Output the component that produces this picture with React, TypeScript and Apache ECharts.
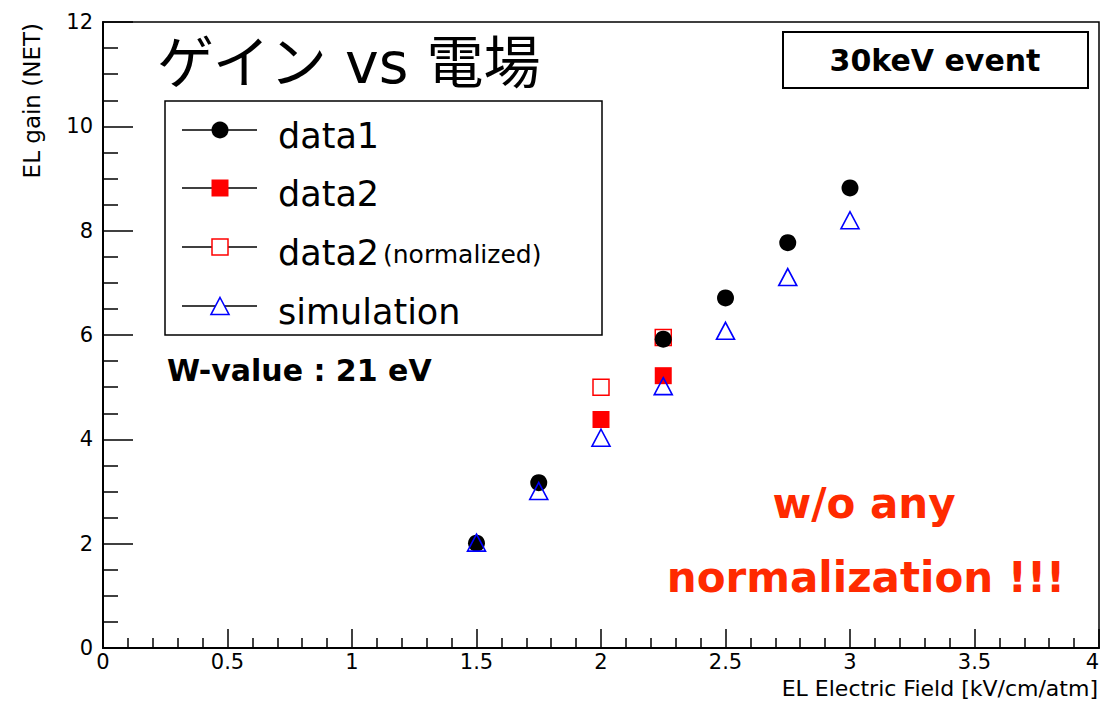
import React, { useEffect, useRef } from "react";
import * as echarts from "echarts";

// ---- data ----
const data1X = [1.5, 1.75, 2.25, 2.5, 2.75, 3.0];
const data1Y = [2.01, 3.17, 5.92, 6.71, 7.77, 8.82];
const data2X = [2.0, 2.25];
const data2Y = [4.38, 5.22];
const data2NormX = [2.0, 2.25];
const data2NormY = [5.0, 5.95];
const simX = [1.5, 1.75, 2.0, 2.25, 2.5, 2.75, 3.0];
const simY = [2.02, 3.01, 4.03, 5.02, 6.08, 7.11, 8.2];

const legendLabels = ["data1", "data2", "data2", "simulation"];
const legendSuffix = "(normalized)";
const titleText = "ゲイン vs 電場";
const boxText = "30keV event";
const wText = "W-value : 21 eV";
const redLines = ["w/o any", "normalization !!!"];
const yAxisTitle = "EL gain (NET)";
const xAxisTitle = "EL Electric Field [kV/cm/atm]";

const FONT = "DejaVu Sans";
const zip = (xs: number[], ys: number[]) => xs.map((x, i) => [x, ys[i]]);

export default function App() {
  const ref = useRef<HTMLDivElement>(null);
  useEffect(() => {
    if (!ref.current) return;
    const chart = echarts.init(ref.current, undefined, { renderer: "svg" });

    const rowsY = [130, 188, 247, 306];
    const legendGraphics: any[] = [
      {
        type: "rect",
        shape: { x: 165, y: 101, width: 437, height: 234 },
        style: { fill: "#fff", stroke: "#000", lineWidth: 1.5 },
        z: 10,
      },
    ];
    rowsY.forEach((ry, i) => {
      legendGraphics.push({
        type: "line",
        shape: { x1: 182, y1: ry, x2: 257, y2: ry },
        style: { stroke: "#000", lineWidth: 1.5 },
        z: 11,
      });
      legendGraphics.push({
        type: "text",
        x: 278,
        y: ry + 6,
        style: {
          text: legendLabels[i],
          font: `35px "${FONT}"`,
          fill: "#000",
          textAlign: "left",
          textVerticalAlign: "middle",
        },
        z: 11,
      });
    });
    legendGraphics.push({
      type: "text",
      x: 383,
      y: 254,
      style: {
        text: legendSuffix,
        font: `25px "${FONT}"`,
        fill: "#000",
        textAlign: "left",
        textVerticalAlign: "middle",
      },
      z: 11,
    });
    // legend markers
    legendGraphics.push({
      type: "circle",
      shape: { cx: 220, cy: rowsY[0], r: 8.5 },
      style: { fill: "#000" },
      z: 12,
    });
    legendGraphics.push({
      type: "rect",
      shape: { x: 211.5, y: rowsY[1] - 8.5, width: 17, height: 17 },
      style: { fill: "#ff0000" },
      z: 12,
    });
    legendGraphics.push({
      type: "rect",
      shape: { x: 212, y: rowsY[2] - 8, width: 16, height: 16 },
      style: { fill: "#fff", stroke: "#ff0000", lineWidth: 1.5 },
      z: 12,
    });
    legendGraphics.push({
      type: "polygon",
      shape: {
        points: [
          [220, rowsY[3] - 8.5],
          [229, rowsY[3] + 8.5],
          [211, rowsY[3] + 8.5],
        ],
      },
      style: { fill: "#fff", stroke: "#0000ff", lineWidth: 1.6 },
      z: 12,
    });

    const option: any = {
      animation: false,
      backgroundColor: "#fff",
      grid: {
        left: 103,
        right: 3,
        top: 22,
        bottom: 55,
        show: true,
        borderColor: "#000",
        borderWidth: 1.5,
        containLabel: false,
        outerBoundsMode: "none",
      },
      xAxis: {
        type: "value",
        min: 0,
        max: 4,
        interval: 0.5,
        axisLine: { show: true, onZero: false, lineStyle: { color: "#000", width: 2 } },
        axisTick: { show: true, inside: true, length: 19, lineStyle: { color: "#000", width: 1.5 } },
        minorTick: { show: true, splitNumber: 5, length: 10, lineStyle: { color: "#000", width: 1.5 } },
        splitLine: { show: false },
        minorSplitLine: { show: false },
        axisLabel: {
          color: "#000",
          fontSize: 21,
          fontFamily: FONT,
          margin: 3,
          showMaxLabel: true,
          hideOverlap: false,
          alignMaxLabel: "right",
        },
      },
      yAxis: {
        type: "value",
        min: 0,
        max: 12,
        interval: 2,
        axisLine: { show: true, onZero: false, lineStyle: { color: "#000", width: 2 } },
        axisTick: { show: true, inside: true, length: 30, lineStyle: { color: "#000", width: 1.5 } },
        minorTick: { show: true, splitNumber: 4, length: 15, lineStyle: { color: "#000", width: 1.5 } },
        splitLine: { show: false },
        minorSplitLine: { show: false },
        axisLabel: {
          color: "#000",
          fontSize: 21,
          fontFamily: FONT,
          margin: 10,
        },
      },
      series: [
        {
          name: "data2(normalized)",
          type: "scatter",
          data: zip(data2NormX, data2NormY),
          symbol: "rect",
          symbolSize: 16,
          itemStyle: { color: "rgba(255,255,255,0)", borderColor: "#ff0000", borderWidth: 1.5, opacity: 1 },
          z: 2,
        },
        {
          name: "data1",
          type: "scatter",
          data: zip(data1X, data1Y),
          symbol: "circle",
          symbolSize: 17,
          itemStyle: { color: "#000", opacity: 1 },
          z: 3,
        },
        {
          name: "data2",
          type: "scatter",
          data: zip(data2X, data2Y),
          symbol: "rect",
          symbolSize: 17,
          itemStyle: { color: "#ff0000", opacity: 1 },
          z: 4,
        },
        {
          name: "simulation",
          type: "scatter",
          data: zip(simX, simY),
          symbol: "triangle",
          symbolSize: [18, 17],
          itemStyle: { color: "rgba(255,255,255,0)", borderColor: "#0000ff", borderWidth: 1.6, opacity: 1 },
          z: 5,
        },
      ],
      graphic: [
        {
          type: "text",
          x: 157,
          y: 63,
          style: {
            text: titleText,
            font: `57px "DejaVu Sans", "Noto Sans CJK JP"`,
            fill: "#000",
            textAlign: "left",
            textVerticalAlign: "middle",
          },
          z: 10,
        },
        {
          type: "rect",
          shape: { x: 783, y: 32, width: 305, height: 56 },
          style: { fill: "#fff", stroke: "#000", lineWidth: 2 },
          z: 10,
        },
        {
          type: "text",
          x: 935,
          y: 60,
          style: {
            text: boxText,
            font: `bold 30px "${FONT}"`,
            fill: "#000",
            textAlign: "center",
            textVerticalAlign: "middle",
          },
          z: 11,
        },
        ...legendGraphics,
        {
          type: "text",
          x: 167,
          y: 370,
          style: {
            text: wText,
            font: `bold 30px "${FONT}"`,
            fill: "#000",
            textAlign: "left",
            textVerticalAlign: "middle",
          },
          z: 10,
        },
        {
          type: "text",
          x: 864,
          y: 503,
          style: {
            text: redLines[0],
            font: `bold 42px "${FONT}"`,
            fill: "#ff2a00",
            textAlign: "center",
            textVerticalAlign: "middle",
          },
          z: 10,
        },
        {
          type: "text",
          x: 866,
          y: 577,
          style: {
            text: redLines[1],
            font: `bold 42px "${FONT}"`,
            fill: "#ff2a00",
            textAlign: "center",
            textVerticalAlign: "middle",
          },
          z: 10,
        },
        {
          type: "text",
          x: 32,
          y: 23,
          rotation: Math.PI / 2,
          style: {
            text: yAxisTitle,
            font: `23px "${FONT}"`,
            fill: "#000",
            textAlign: "right",
            textVerticalAlign: "middle",
          },
          z: 10,
        },
        {
          type: "text",
          x: 1098,
          y: 688,
          style: {
            text: xAxisTitle,
            font: `22px "${FONT}"`,
            fill: "#000",
            textAlign: "right",
            textVerticalAlign: "middle",
          },
          z: 10,
        },
      ],
    };
    chart.setOption(option);
    return () => chart.dispose();
  }, []);
  return (
    <div
      ref={ref}
      style={{ position: "fixed", left: 0, top: 0, width: 1102, height: 703, background: "#fff" }}
    />
  );
}
